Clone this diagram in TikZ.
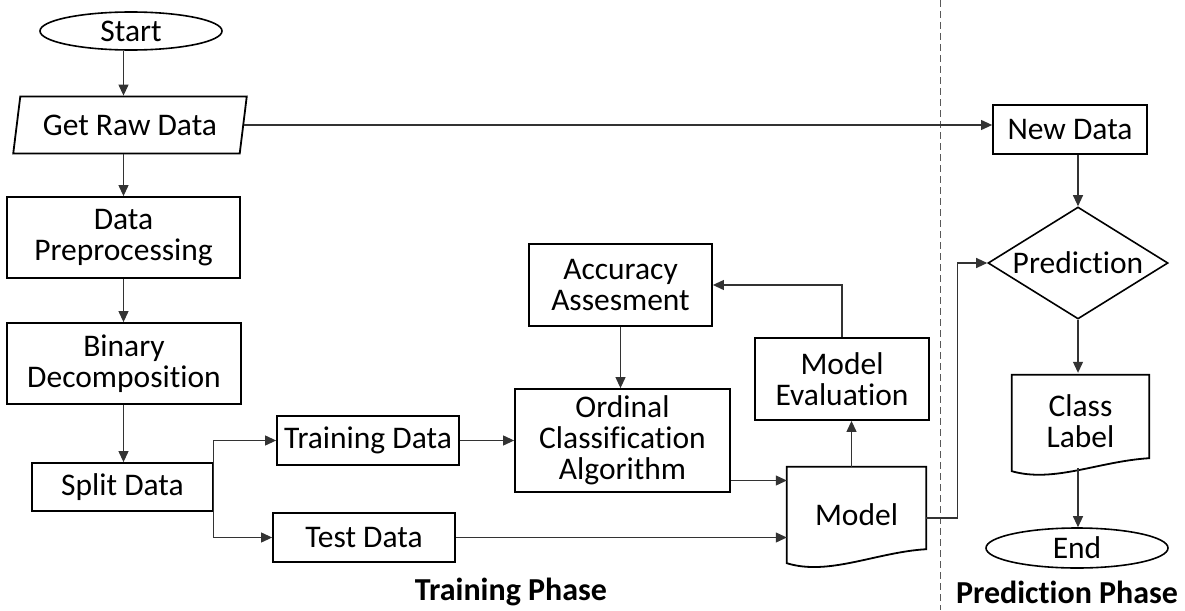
\documentclass[tikz,border=0pt]{standalone}
\usepackage{fontspec}
\setmainfont{Carlito}[Ligatures=NoCommon]
\usetikzlibrary{shapes.geometric,arrows.meta,calc}
\begin{document}
\begin{tikzpicture}[x=1pt,y=-1pt,
  txt/.style={font=\fontsize{31.5}{31}\selectfont, align=center, inner sep=1pt},
  box/.style={txt, draw=black, line width=1.8pt, rectangle},
  term/.style={txt, draw=black, line width=1.6pt, ellipse, inner sep=0pt},
  docnode/.style={txt},
  docshape/.style={draw=black, line width=1.8pt},
  conn/.style={draw=black!80, line width=1.1pt},
  arr/.style={conn, -{Triangle[length=11pt,width=10pt]}},
  phase/.style={font=\fontsize{32}{32}\selectfont\bfseries, inner sep=0pt}]
\useasboundingbox (0,0) rectangle (1185,610);
\fill[white] (0,0) rectangle (1185,610);

% divider
\draw[black!65, line width=0.9pt, dash pattern=on 7pt off 4pt] (940,0) -- (940,610);

% left column
\node[term, minimum width=182, minimum height=38] (start) at (131,31) {Start};
\node[txt, draw=black, line width=1.8pt, trapezium, trapezium left angle=76, trapezium right angle=104,
      trapezium stretches=true, minimum width=234, minimum height=57] (raw) at (130,125) {Get Raw Data};
\node[box, minimum width=233, minimum height=81] (prep) at (123.5,237.5) {Data\\Preprocessing};
\node[box, minimum width=234, minimum height=81] (bin) at (124,363.5) {Binary\\Decomposition};
\node[box, minimum width=181, minimum height=48] (split) at (122.5,487) {Split Data};

% training branch
\node[box, minimum width=182, minimum height=49] (train) at (368,440.5) {Training Data};
\node[box, minimum width=182, minimum height=49] (test) at (364,537.5) {Test Data};
\node[box, minimum width=183, minimum height=82] (acc) at (620.5,285) {Accuracy\\Assesment};
\node[box, minimum width=215, minimum height=103] (oca) at (622.5,440.5) {Ordinal\\Classification\\Algorithm};
\node[box, minimum width=174, minimum height=82] (eval) at (842,379) {Model\\Evaluation};

% model (document)
\node[docnode, minimum width=139, minimum height=96] (model) at (856.5,515) {Model};
\draw[docshape] (model.north west) -- (model.north east) -- ([yshift=14pt]model.south east)
  .. controls +(-50,3) and +(42,13) .. (model.south west) -- cycle;

% prediction column
\node[box, minimum width=154, minimum height=49] (nd) at (1070,129.5) {New Data};
\node[txt, draw=black, line width=1.6pt, diamond, aspect=1.6, minimum width=180, minimum height=112, inner sep=0pt] (pred) at (1078,263) {Prediction};
\node[docnode, minimum width=137, minimum height=96] (cls) at (1080.5,421) {Class\\Label};
\draw[docshape] ([yshift=-2pt]cls.north west) -- ([yshift=-2pt]cls.north east) -- ([yshift=11pt]cls.south east)
  .. controls +(-50,3) and +(42,12) .. ([yshift=-2pt]cls.south west) -- cycle;
\node[term, minimum width=182, minimum height=40] (end) at (1077,548) {End};

% phase labels
\node[phase] (tp) at (511,592) {Training Phase};
\node[phase] (pp) at (1067,592) {Prediction Phase};

% connectors
\draw[arr] (start.south -| prep.north) -- (raw.north -| prep.north);
\draw[arr] (raw.south -| prep.north) -- (prep.north);
\draw[arr] (prep.south) -- (bin.north -| prep.south);
\draw[arr] (bin.south -| prep.south) -- (split.north -| prep.south);
\draw[arr] (split.east) |- (train.west);
\draw[arr] (split.east) |- (test.west);
\draw[arr] (train.east) -- (train.east -| oca.west);
\draw[arr] (acc.south) -- (acc.south |- oca.north);
\draw[arr] ([yshift=-40pt]oca.east) -- ([yshift=-40pt]oca.east -| model.west);
\draw[arr] (test.east) -- (test.east -| model.west);
\draw[arr] ([xshift=-5pt]model.north) -- ([xshift=-5pt]model.north |- eval.south);
\draw[arr] (eval.north) |- (acc.east);
\draw[arr] (raw.east) -- (raw.east -| nd.west);
\draw[arr] (pred.north |- nd.south) -- (pred.north);
\draw[arr] ([yshift=-3pt]model.east) -- ++(31,0) |- (pred.west);
\draw[arr] (pred.south) -- (pred.south |- cls.north);
\draw[arr] ([yshift=1pt]cls.south -| pred.south) -- (end.north -| pred.south);
\end{tikzpicture}
\end{document}
